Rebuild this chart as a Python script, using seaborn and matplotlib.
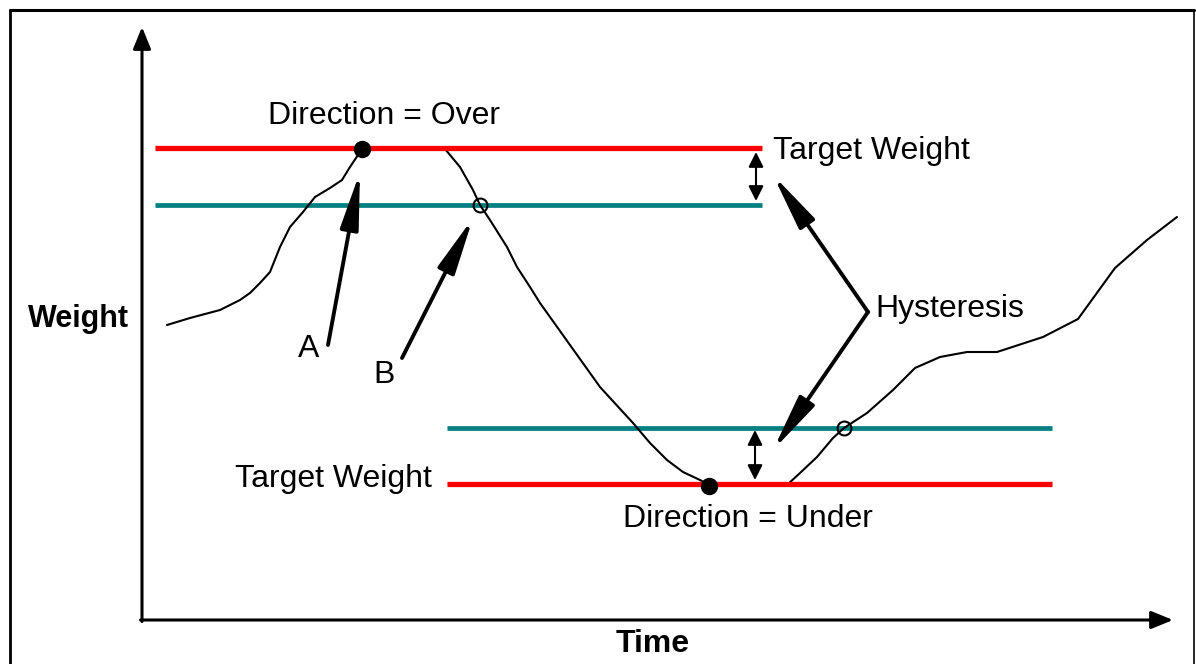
import numpy as np
import pandas as pd
import seaborn as sns
import matplotlib.pyplot as plt
from matplotlib.lines import Line2D

sns.set_style('white')
plt.rcParams['font.family'] = ['Liberation Sans', 'DejaVu Sans']
plt.rcParams['text.color'] = 'black'

# 重量訊號（時間, 重量）
time = [24, 47, 77, 97, 107, 117, 127, 137, 147, 160, 172, 187, 199, 207, 219,
        302, 317, 330, 337, 347, 364, 374, 387, 397, 427, 457, 490, 507, 524,
        540, 557, 566, 644, 657, 674, 690, 701, 724, 750, 772, 797, 824, 854,
        900, 935, 972, 1004, 1034]
weight = [295, 302, 310, 320, 327, 337, 348, 373, 393, 408, 423, 432, 440, 453, 471,
          471, 453, 430, 415, 400, 373, 353, 333, 317, 275, 233, 197, 177, 160,
          148, 140, 135, 135, 147, 163, 182, 192, 207, 230, 252, 263, 268, 268,
          283, 301, 352, 380, 403]

# 門檻線
over_target = 472
over_hyst = 415
under_hyst = 192
under_target = 136
over_span = [12, 619]
under_span = [304, 909]

# 標記點
dir_points_t = [219, 566]
dir_points_w = [471, 134]
cross_points_t = [337, 701]
cross_points_w = [415, 192]

df = pd.DataFrame({'time': time, 'weight': weight})

fig = plt.figure(figsize=(11.96, 6.64), dpi=100)
ax = fig.add_axes([0, 0, 1, 1])
ax.set_xlim(-143, 1053)
ax.set_ylim(-44, 620)
ax.axis('off')

red = '#ff0000'
teal = '#008080'
fs = 23

# 門檻線
ax.hlines([over_hyst], over_span[0], over_span[1], color=teal, lw=3.4, zorder=2)
ax.hlines([under_hyst], under_span[0], under_span[1], color=teal, lw=3.4, zorder=2)
sns.lineplot(data=df, x='time', y='weight', sort=False, estimator=None,
             color='black', lw=1.5, ax=ax, zorder=3)
ax.hlines([over_target], over_span[0], over_span[1], color=red, lw=3.8, zorder=4)
ax.hlines([under_target], under_span[0], under_span[1], color=red, lw=3.8, zorder=4)

ax.plot(dir_points_t, dir_points_w, 'o', color='black', ms=11.5, zorder=5)
ax.plot(cross_points_t, cross_points_w, 'o', mfc='none', mec='black', ms=10, mew=1.5, zorder=5)

# 座標軸箭頭
axis_style = dict(arrowstyle='-|>,head_length=1.1,head_width=0.45', lw=2.2, color='black',
                  mutation_scale=12, shrinkA=0, shrinkB=0)
ax.annotate('', xy=(-1, 593), xytext=(-1, -1.5), arrowprops=axis_style)
ax.annotate('', xy=(1030, 0), xytext=(-2.5, 0), arrowprops=axis_style)

# 指示箭頭
big = dict(arrowstyle='-|>,head_length=3.4,head_width=0.55', lw=2.8, color='black',
           mutation_scale=10, shrinkA=0, shrinkB=0)
ax.annotate('', xy=(217, 448), xytext=(185, 275), arrowprops=big)
ax.annotate('', xy=(330, 402), xytext=(259, 262), arrowprops=big)
ax.annotate('', xy=(630, 445), xytext=(725, 308), arrowprops=big)
ax.annotate('', xy=(630, 170), xytext=(725, 308), arrowprops=big)

# 遲滯區間雙箭頭
dbl = dict(arrowstyle='<|-|>,head_length=0.9,head_width=0.45', lw=1.5, color='black',
           mutation_scale=10, shrinkA=0, shrinkB=0)
ax.annotate('', xy=(613, 468), xytext=(613, 419), arrowprops=dbl)
ax.annotate('', xy=(612, 190), xytext=(612, 140), arrowprops=dbl)

# 文字
ax.text(125, 496, 'Direction = Over', fontsize=fs, va='baseline')
ax.text(630, 461, 'Target Weight', fontsize=fs, va='baseline')
ax.text(732, 303, 'Hysteresis', fontsize=fs, va='baseline')
ax.text(155, 263, 'A', fontsize=fs, va='baseline')
ax.text(230, 237, 'B', fontsize=fs, va='baseline')
ax.text(92, 133, 'Target Weight', fontsize=fs, va='baseline')
ax.text(480, 93, 'Direction = Under', fontsize=fs, va='baseline')
ax.text(-115, 293, 'Weight', fontsize=22, fontweight='bold', va='baseline')
ax.text(473, -32, 'Time', fontsize=23, fontweight='bold', va='baseline')

# 外框
W, H = 1196, 664
fig.add_artist(Line2D([10 / W, 1194 / W], [1 - 10 / H, 1 - 10 / H], color='black', lw=2.2))
fig.add_artist(Line2D([10 / W, 10 / W], [0, 1 - 10 / H], color='black', lw=2.0))
fig.add_artist(Line2D([1194 / W, 1194 / W], [0, 1 - 10 / H], color='black', lw=1.2))

plt.savefig('out.png', dpi=100)
